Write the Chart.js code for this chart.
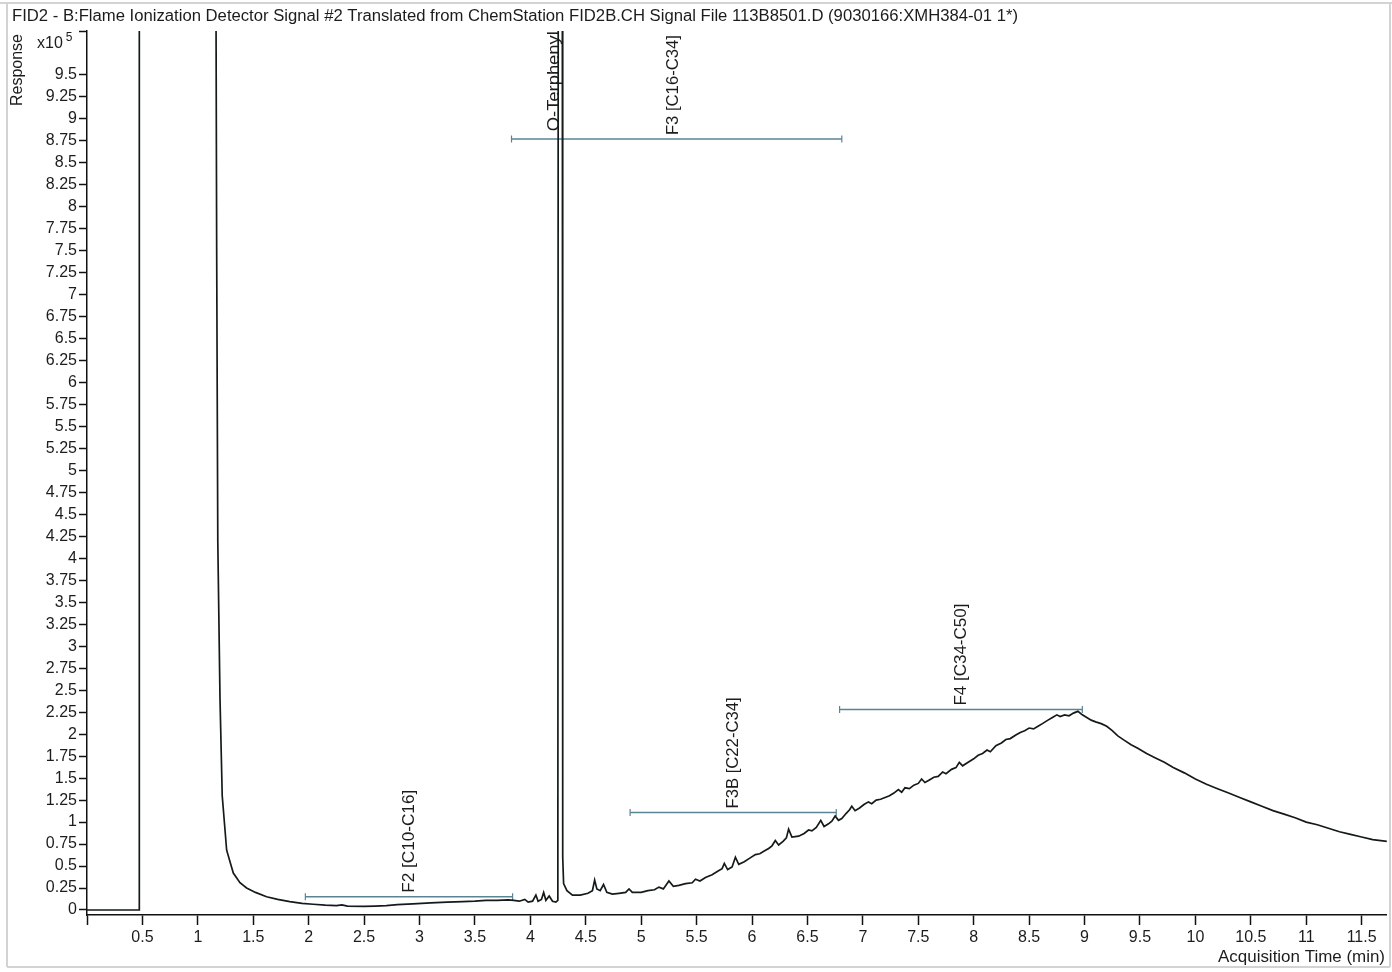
<!DOCTYPE html>
<html>
<head>
<meta charset="utf-8">
<script src="https://cdn.jsdelivr.net/npm/chart.js@4.4.1/dist/chart.umd.min.js"></script>
<style>
  html, body { margin: 0; padding: 0; background: #ffffff; }
  #wrap { width: 1392px; height: 972px; }
</style>
</head>
<body>
<div id="wrap"><canvas id="fid" width="1392" height="972"></canvas></div>
<script>
// FID2 signal trace: acquisition time (min) and response (x10^5 counts)
const retTime = [
  0, 0.471, 0.472, 1.16, 1.17, 1.18, 1.20, 1.22, 1.26, 1.32, 1.38, 1.44, 1.52, 1.62, 1.72, 1.83, 1.94,
  2.04, 2.15, 2.25, 2.30, 2.35, 2.50, 2.60, 2.70, 2.80, 2.94, 3.10, 3.25, 3.39, 3.50, 3.60, 3.70, 3.80,
  3.85, 3.90, 3.95, 3.98, 4.02, 4.05, 4.07, 4.10, 4.12, 4.14, 4.17, 4.20, 4.23, 4.248, 4.252, 4.288,
  4.292, 4.30, 4.33, 4.38, 4.45, 4.52, 4.56, 4.58, 4.60, 4.63, 4.66, 4.69, 4.74, 4.80, 4.86, 4.89, 4.92,
  5.00, 5.06, 5.12, 5.16, 5.20, 5.25, 5.29, 5.34, 5.40, 5.46, 5.49, 5.53, 5.58, 5.64, 5.69, 5.73, 5.75,
  5.78, 5.82, 5.85, 5.88, 5.93, 5.98, 6.03, 6.07, 6.11, 6.15, 6.18, 6.21, 6.24, 6.28, 6.31, 6.33, 6.36,
  6.42, 6.47, 6.51, 6.54, 6.58, 6.62, 6.65, 6.69, 6.72, 6.75, 6.78, 6.81, 6.85, 6.88, 6.90, 6.93, 6.97,
  7.01, 7.05, 7.08, 7.12, 7.16, 7.20, 7.24, 7.28, 7.32, 7.35, 7.38, 7.42, 7.46, 7.50, 7.53, 7.56, 7.60,
  7.64, 7.68, 7.72, 7.75, 7.80, 7.84, 7.87, 7.90, 7.95, 8.00, 8.04, 8.08, 8.12, 8.15, 8.20, 8.25, 8.29,
  8.33, 8.38, 8.42, 8.46, 8.50, 8.54, 8.58, 8.62, 8.67, 8.71, 8.75, 8.78, 8.82, 8.86, 8.90, 8.94, 8.98,
  9.02, 9.06, 9.10, 9.15, 9.20, 9.25, 9.30, 9.36, 9.42, 9.48, 9.56, 9.64, 9.72, 9.80, 9.90, 10.00,
  10.10, 10.20, 10.30, 10.40, 10.50, 10.60, 10.70, 10.80, 10.90, 11.00, 11.10, 11.20, 11.30, 11.40,
  11.50, 11.60, 11.73
];
const response = [
  0, 0, 12, 12, 7.5, 4.2, 2.4, 1.3, 0.68, 0.42, 0.31, 0.25, 0.20, 0.15, 0.12, 0.095, 0.075,
  0.065, 0.055, 0.05, 0.058, 0.045, 0.04, 0.045, 0.05, 0.06, 0.07, 0.08, 0.09, 0.095, 0.10, 0.11, 0.11, 0.115,
  0.11, 0.10, 0.12, 0.09, 0.10, 0.17, 0.10, 0.12, 0.20, 0.11, 0.16, 0.10, 0.09, 0.11, 12, 12,
  0.6, 0.30, 0.22, 0.17, 0.17, 0.19, 0.22, 0.34, 0.24, 0.22, 0.29, 0.20, 0.18, 0.19, 0.20, 0.24, 0.20,
  0.20, 0.22, 0.23, 0.26, 0.24, 0.33, 0.27, 0.28, 0.30, 0.31, 0.35, 0.33, 0.37, 0.40, 0.44, 0.47, 0.53,
  0.46, 0.49, 0.60, 0.52, 0.55, 0.59, 0.63, 0.64, 0.67, 0.70, 0.73, 0.79, 0.74, 0.78, 0.82, 0.92, 0.83,
  0.84, 0.87, 0.91, 0.90, 0.94, 1.02, 0.95, 0.98, 1.01, 1.07, 1.02, 1.04, 1.10, 1.14, 1.18, 1.13, 1.16,
  1.20, 1.23, 1.21, 1.25, 1.26, 1.28, 1.30, 1.33, 1.37, 1.34, 1.39, 1.38, 1.42, 1.44, 1.49, 1.45, 1.48,
  1.51, 1.52, 1.57, 1.55, 1.60, 1.62, 1.68, 1.64, 1.68, 1.72, 1.76, 1.78, 1.82, 1.80, 1.87, 1.90, 1.94,
  1.95, 1.99, 2.02, 2.04, 2.07, 2.06, 2.09, 2.12, 2.16, 2.19, 2.22, 2.20, 2.22, 2.21, 2.24, 2.26, 2.22,
  2.19, 2.16, 2.14, 2.12, 2.09, 2.04, 1.98, 1.93, 1.88, 1.84, 1.78, 1.73, 1.68, 1.62, 1.56, 1.49,
  1.43, 1.38, 1.33, 1.28, 1.23, 1.18, 1.13, 1.09, 1.05, 1.00, 0.97, 0.93, 0.89, 0.86,
  0.83, 0.80, 0.78
];

// Integration ranges (carbon fractions)
const rangeNames = ['F2 [C10-C16]', 'F3 [C16-C34]', 'F3B [C22-C34]', 'F4 [C34-C50]'];
const rangeStart = [1.97, 3.83, 4.90, 6.79];
const rangeEnd   = [3.84, 6.81, 6.76, 8.98];
const rangeLevel = [0.15, 8.77, 1.11, 2.28];
const rangeLabelTime = [2.91, 5.29, 5.83, 7.89];

// Named compound peak
const peakName = 'O-Terphenyl';
const peakLabelTime = 4.22;
const peakLabelLevel = 8.86;

// Axis ticks
const xTickValues = [0, 0.5, 1, 1.5, 2, 2.5, 3, 3.5, 4, 4.5, 5, 5.5, 6, 6.5, 7, 7.5, 8, 8.5, 9, 9.5, 10, 10.5, 11, 11.5];
const yTickValues = [0, 0.25, 0.5, 0.75, 1, 1.25, 1.5, 1.75, 2, 2.25, 2.5, 2.75, 3, 3.25, 3.5, 3.75, 4, 4.25, 4.5, 4.75,
  5, 5.25, 5.5, 5.75, 6, 6.25, 6.5, 6.75, 7, 7.25, 7.5, 7.75, 8, 8.25, 8.5, 8.75, 9, 9.25, 9.5, 10];

const chartTitle = 'FID2 - B:Flame Ionization Detector Signal #2 Translated from ChemStation FID2B.CH Signal File 113B8501.D (9030166:XMH384-01 1*)';
const yTitle = 'Response';
const xTitle = 'Acquisition Time (min)';

const FONT = '"Liberation Sans", Arial, sans-serif';
const TEXT = '#1c1c1c';
const RANGE_COLOR = '#5a8396';

const signalPoints = retTime.map((t, i) => ({ x: t, y: response[i] }));
const rangeSets = rangeNames.map((name, i) => ({
  label: name,
  data: [{ x: rangeStart[i], y: rangeLevel[i] }, { x: rangeEnd[i], y: rangeLevel[i] }],
  borderColor: RANGE_COLOR,
  borderWidth: 1.5,
  pointStyle: 'line',
  pointRotation: 90,
  pointRadius: 3.5,
  pointBorderColor: RANGE_COLOR,
  pointBorderWidth: 1.2,
  tension: 0
}));

// draw text squeezed/stretched to a given width
function fitText(ctx, text, x, y, width, align) {
  const natural = ctx.measureText(text).width;
  const k = width / natural;
  ctx.save();
  ctx.translate(x, y);
  ctx.scale(k, 1);
  ctx.textAlign = align;
  ctx.fillText(text, 0, 0);
  ctx.restore();
}

const decorations = {
  id: 'decorations',
  beforeDraw(chart) {
    const ctx = chart.ctx;
    ctx.save();
    ctx.fillStyle = '#ffffff';
    ctx.fillRect(0, 0, chart.width, chart.height);
    ctx.strokeStyle = '#d3d3d3';
    ctx.lineWidth = 2;
    ctx.beginPath();
    ctx.moveTo(0, 3); ctx.lineTo(1392, 3);
    ctx.moveTo(7, 3); ctx.lineTo(7, 967);
    ctx.moveTo(7, 967); ctx.lineTo(1390, 967);
    ctx.moveTo(1390, 3); ctx.lineTo(1390, 967);
    ctx.stroke();
    ctx.restore();
  },
  beforeDatasetsDraw(chart) {
    const ctx = chart.ctx;
    const xs = chart.scales.x, ys = chart.scales.y;
    const widths = [103, 100, 111, 102];
    ctx.save();
    ctx.fillStyle = TEXT;
    ctx.font = '16px ' + FONT;
    ctx.textBaseline = 'middle';
    rangeNames.forEach((name, i) => {
      const px = xs.getPixelForValue(rangeLabelTime[i]);
      const py = ys.getPixelForValue(rangeLevel[i]) - 4;
      ctx.save();
      ctx.translate(px, py);
      ctx.rotate(-Math.PI / 2);
      fitText(ctx, name, 0, 0, widths[i], 'left');
      ctx.restore();
    });
    const ppx = xs.getPixelForValue(peakLabelTime);
    const ppy = ys.getPixelForValue(peakLabelLevel);
    ctx.translate(ppx, ppy);
    ctx.rotate(-Math.PI / 2);
    fitText(ctx, peakName, 0, 0, 100, 'left');
    ctx.restore();
  },
  afterDraw(chart) {
    const ctx = chart.ctx;
    ctx.save();
    ctx.fillStyle = TEXT;
    ctx.textBaseline = 'middle';
    ctx.font = '16px ' + FONT;
    fitText(ctx, chartTitle, 12, 17, 1006, 'left');
    fitText(ctx, xTitle, 1385, 958, 167, 'right');
    // y axis title
    ctx.save();
    ctx.translate(18, 34);
    ctx.rotate(-Math.PI / 2);
    ctx.textAlign = 'right';
    ctx.fillText(yTitle, 0, 0);
    ctx.restore();
    // exponent marker
    ctx.textAlign = 'left';
    ctx.fillText('x10', 37, 44);
    const w = ctx.measureText('x10').width;
    ctx.font = '12px ' + FONT;
    ctx.fillText('5', 37 + w + 3, 38);
    ctx.restore();
  }
};

new Chart(document.getElementById('fid'), {
  type: 'line',
  data: {
    datasets: [
      {
        label: 'FID2 B',
        data: signalPoints,
        borderColor: '#141a1a',
        borderWidth: 1.7,
        pointRadius: 0,
        tension: 0
      },
      ...rangeSets
    ]
  },
  options: {
    responsive: false,
    animation: false,
    events: [],
    layout: { padding: { top: 31, right: 3, left: 0, bottom: 0 } },
    plugins: { legend: { display: false }, tooltip: { enabled: false }, title: { display: false } },
    scales: {
      x: {
        type: 'linear',
        min: 0,
        max: 11.727,
        afterBuildTicks: s => { s.ticks = xTickValues.map(v => ({ value: v })); },
        afterFit: s => { s.height = 57; },
        ticks: {
          autoSkip: false,
          maxRotation: 0,
          padding: 3,
          color: TEXT,
          font: { family: FONT, size: 16 },
          callback: v => (v === 0 ? '' : String(v))
        },
        grid: { drawOnChartArea: false, drawTicks: true, tickLength: 10, tickColor: '#111', tickWidth: 1.5 },
        border: { display: true, color: '#111', width: 1.5 }
      },
      y: {
        type: 'linear',
        min: -0.057,
        max: 10,
        afterBuildTicks: s => { s.ticks = yTickValues.map(v => ({ value: v })); },
        afterFit: s => { s.width = 87; },
        ticks: {
          autoSkip: false,
          padding: 2,
          color: TEXT,
          font: { family: FONT, size: 16 },
          callback: v => (v === 10 ? '' : String(v))
        },
        grid: { drawOnChartArea: false, drawTicks: true, tickLength: 8, tickColor: '#111', tickWidth: 1.5 },
        border: { display: true, color: '#111', width: 1.5 }
      }
    }
  },
  plugins: [decorations]
});
</script>
</body>
</html>
